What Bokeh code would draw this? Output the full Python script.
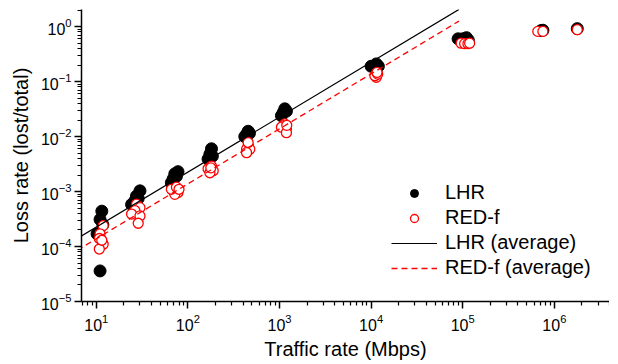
from bokeh.plotting import figure
from bokeh.models import (Range1d, FixedTicker, LogTickFormatter, Legend, LegendItem)
from bokeh.embed import file_html
from bokeh.resources import INLINE

# ---- data ----
lhr_rate = [11.5, 11.0, 10.2, 11.8, 11.0,
            30.0, 27.5, 26.4, 24.3, 28.7,
            78.0, 72.0, 69.0, 66.0, 75.0,
            181.0, 174.0, 166.0, 185.0,
            455.0, 437.0, 418.0, 470.0,
            1143.0, 1100.0, 1050.0, 1190.0,
            1.0e4, 1.14e4, 1.2e4, 1.1e4,
            8.9e4, 1.0e5, 1.1e5, 1.15e5,
            7.2e5, 7.5e5,
            1.78e6]
lhr_loss = [4.4e-4, 3.1e-4, 1.7e-4, 2.5e-4, 3.6e-5,
            1.03e-3, 8.3e-4, 6.8e-4, 5.8e-4, 7.5e-4,
            2.3e-3, 2.1e-3, 1.7e-3, 1.45e-3, 1.9e-3,
            6.0e-3, 4.8e-3, 3.9e-3, 4.4e-3,
            1.25e-2, 1.1e-2, 1.0e-2, 1.15e-2,
            3.2e-2, 2.75e-2, 2.4e-2, 2.9e-2,
            0.19, 0.21, 0.19, 0.18,
            0.60, 0.60, 0.63, 0.57,
            0.85, 0.86,
            0.92]

redf_rate = [11.9, 11.0, 10.8, 11.9, 10.8, 11.5,
             27.5, 30.0, 26.4, 24.3, 30.0, 28.7,
             78.0, 69.0, 72.0, 66.0, 75.0, 80.0,
             181.0, 189.0, 166.0, 174.0, 178.0,
             455.0, 437.0, 474.0, 437.0, 455.0,
             1143.0, 1100.0, 1190.0, 1050.0, 1190.0, 1200.0,
             1.14e4, 1.14e4, 1.1e4, 1.18e4, 1.16e4,
             9.6e4, 1.05e5, 1.14e5, 1.19e5,
             6.6e5, 7.5e5,
             1.78e6]
redf_loss = [2.4e-4, 1.7e-4, 1.4e-4, 1.1e-4, 9.0e-5, 1.3e-4,
             5.9e-4, 5.1e-4, 4.5e-4, 3.9e-4, 3.6e-4, 2.65e-4,
             9.6e-4, 1.03e-3, 8.9e-4, 1.1e-3, 1.2e-3, 1.1e-3,
             2.9e-3, 2.4e-3, 2.6e-3, 2.2e-3, 2.7e-3,
             6.8e-3, 5.9e-3, 5.9e-3, 5.1e-3, 7.8e-3,
             1.7e-2, 1.58e-2, 1.37e-2, 1.48e-2, 1.18e-2, 1.6e-2,
             0.137, 0.12, 0.128, 0.137, 0.147,
             0.50, 0.49, 0.49, 0.50,
             0.82, 0.82,
             0.88]

lhr_avg_rate = [5.0, 9.1e4]
lhr_avg_loss = [1.13e-4, 2.06]
redf_avg_rate = [5.0, 9.1e4]
redf_avg_loss = [6.9e-5, 1.26]

x_major = [10, 100, 1000, 10000, 100000, 1000000]
y_major = [1e-5, 1e-4, 1e-3, 1e-2, 1e-1, 1]

FONT = "Liberation Sans"

p = figure(width=609, height=356, x_axis_type="log", y_axis_type="log",
           x_range=Range1d(6.9, 4.0e6), y_range=Range1d(1e-5, 2.05),
           output_backend="svg", toolbar_location=None,
           min_border_left=81, min_border_top=9, min_border_right=0,
           min_border_bottom=55)
p.frame_width = 528
p.frame_height = 292
p.outline_line_color = None
p.xgrid.visible = False
p.ygrid.visible = False
p.background_fill_color = "white"

x_minor = [m * 10.0 ** e for e in range(0, 7) for m in range(2, 10)]
y_minor = [m * 10.0 ** e for e in range(-5, 1) for m in range(2, 10)]
p.xaxis.ticker = FixedTicker(ticks=x_major, minor_ticks=x_minor)
p.yaxis.ticker = FixedTicker(ticks=y_major, minor_ticks=y_minor)
p.xaxis.formatter = LogTickFormatter()
p.yaxis.formatter = LogTickFormatter()

for ax in (p.xaxis[0], p.yaxis[0]):
    ax.axis_line_width = 1.5
    ax.axis_line_color = "black"
    ax.major_tick_line_width = 1.5
    ax.minor_tick_line_width = 1.2
    ax.major_tick_line_color = "black"
    ax.minor_tick_line_color = "black"
    ax.major_tick_out = 7
    ax.major_tick_in = 0
    ax.minor_tick_out = 4
    ax.minor_tick_in = 0
    ax.major_label_text_font = FONT
    ax.major_label_text_font_size = "16px"
    ax.major_label_text_color = "black"
    ax.axis_label_text_font = FONT
    ax.axis_label_text_font_size = "20px"
    ax.axis_label_text_font_style = "normal"
    ax.axis_label_text_color = "black"

p.xaxis.axis_label = "Traffic rate (Mbps)"
p.yaxis.axis_label = "Loss rate (lost/total)"
p.xaxis.major_label_standoff = 5
p.yaxis.major_label_standoff = 3
p.xaxis.axis_label_standoff = 4
p.yaxis.axis_label_standoff = 6

r_lhr = p.scatter(lhr_rate, lhr_loss, marker="circle", size=12,
                  fill_color="black", line_color="black")
r_red = p.scatter(redf_rate, redf_loss, marker="circle", size=10,
                  fill_color="white", line_color="#ff0000", line_width=1.3)
r_lavg = p.line(lhr_avg_rate, lhr_avg_loss, line_color="black", line_width=1.2)
r_ravg = p.line(redf_avg_rate, redf_avg_loss, line_color="#ff0000",
                line_width=1.3, line_dash="6 4")

legend = Legend(items=[
    LegendItem(label="LHR", renderers=[r_lhr]),
    LegendItem(label="RED-f", renderers=[r_red]),
    LegendItem(label="LHR (average)", renderers=[r_lavg]),
    LegendItem(label="RED-f (average)", renderers=[r_ravg]),
], location=(310, 22))
legend.border_line_color = None
legend.background_fill_alpha = 0
legend.padding = 0
legend.margin = 0
legend.spacing = 2
legend.glyph_width = 46
legend.glyph_height = 20
legend.label_height = 20
legend.label_standoff = 8
legend.label_text_font = FONT
legend.label_text_font_size = "20px"
legend.label_text_color = "black"
p.add_layout(legend, "center")

open("out.html", "w").write(file_html(p, INLINE))
